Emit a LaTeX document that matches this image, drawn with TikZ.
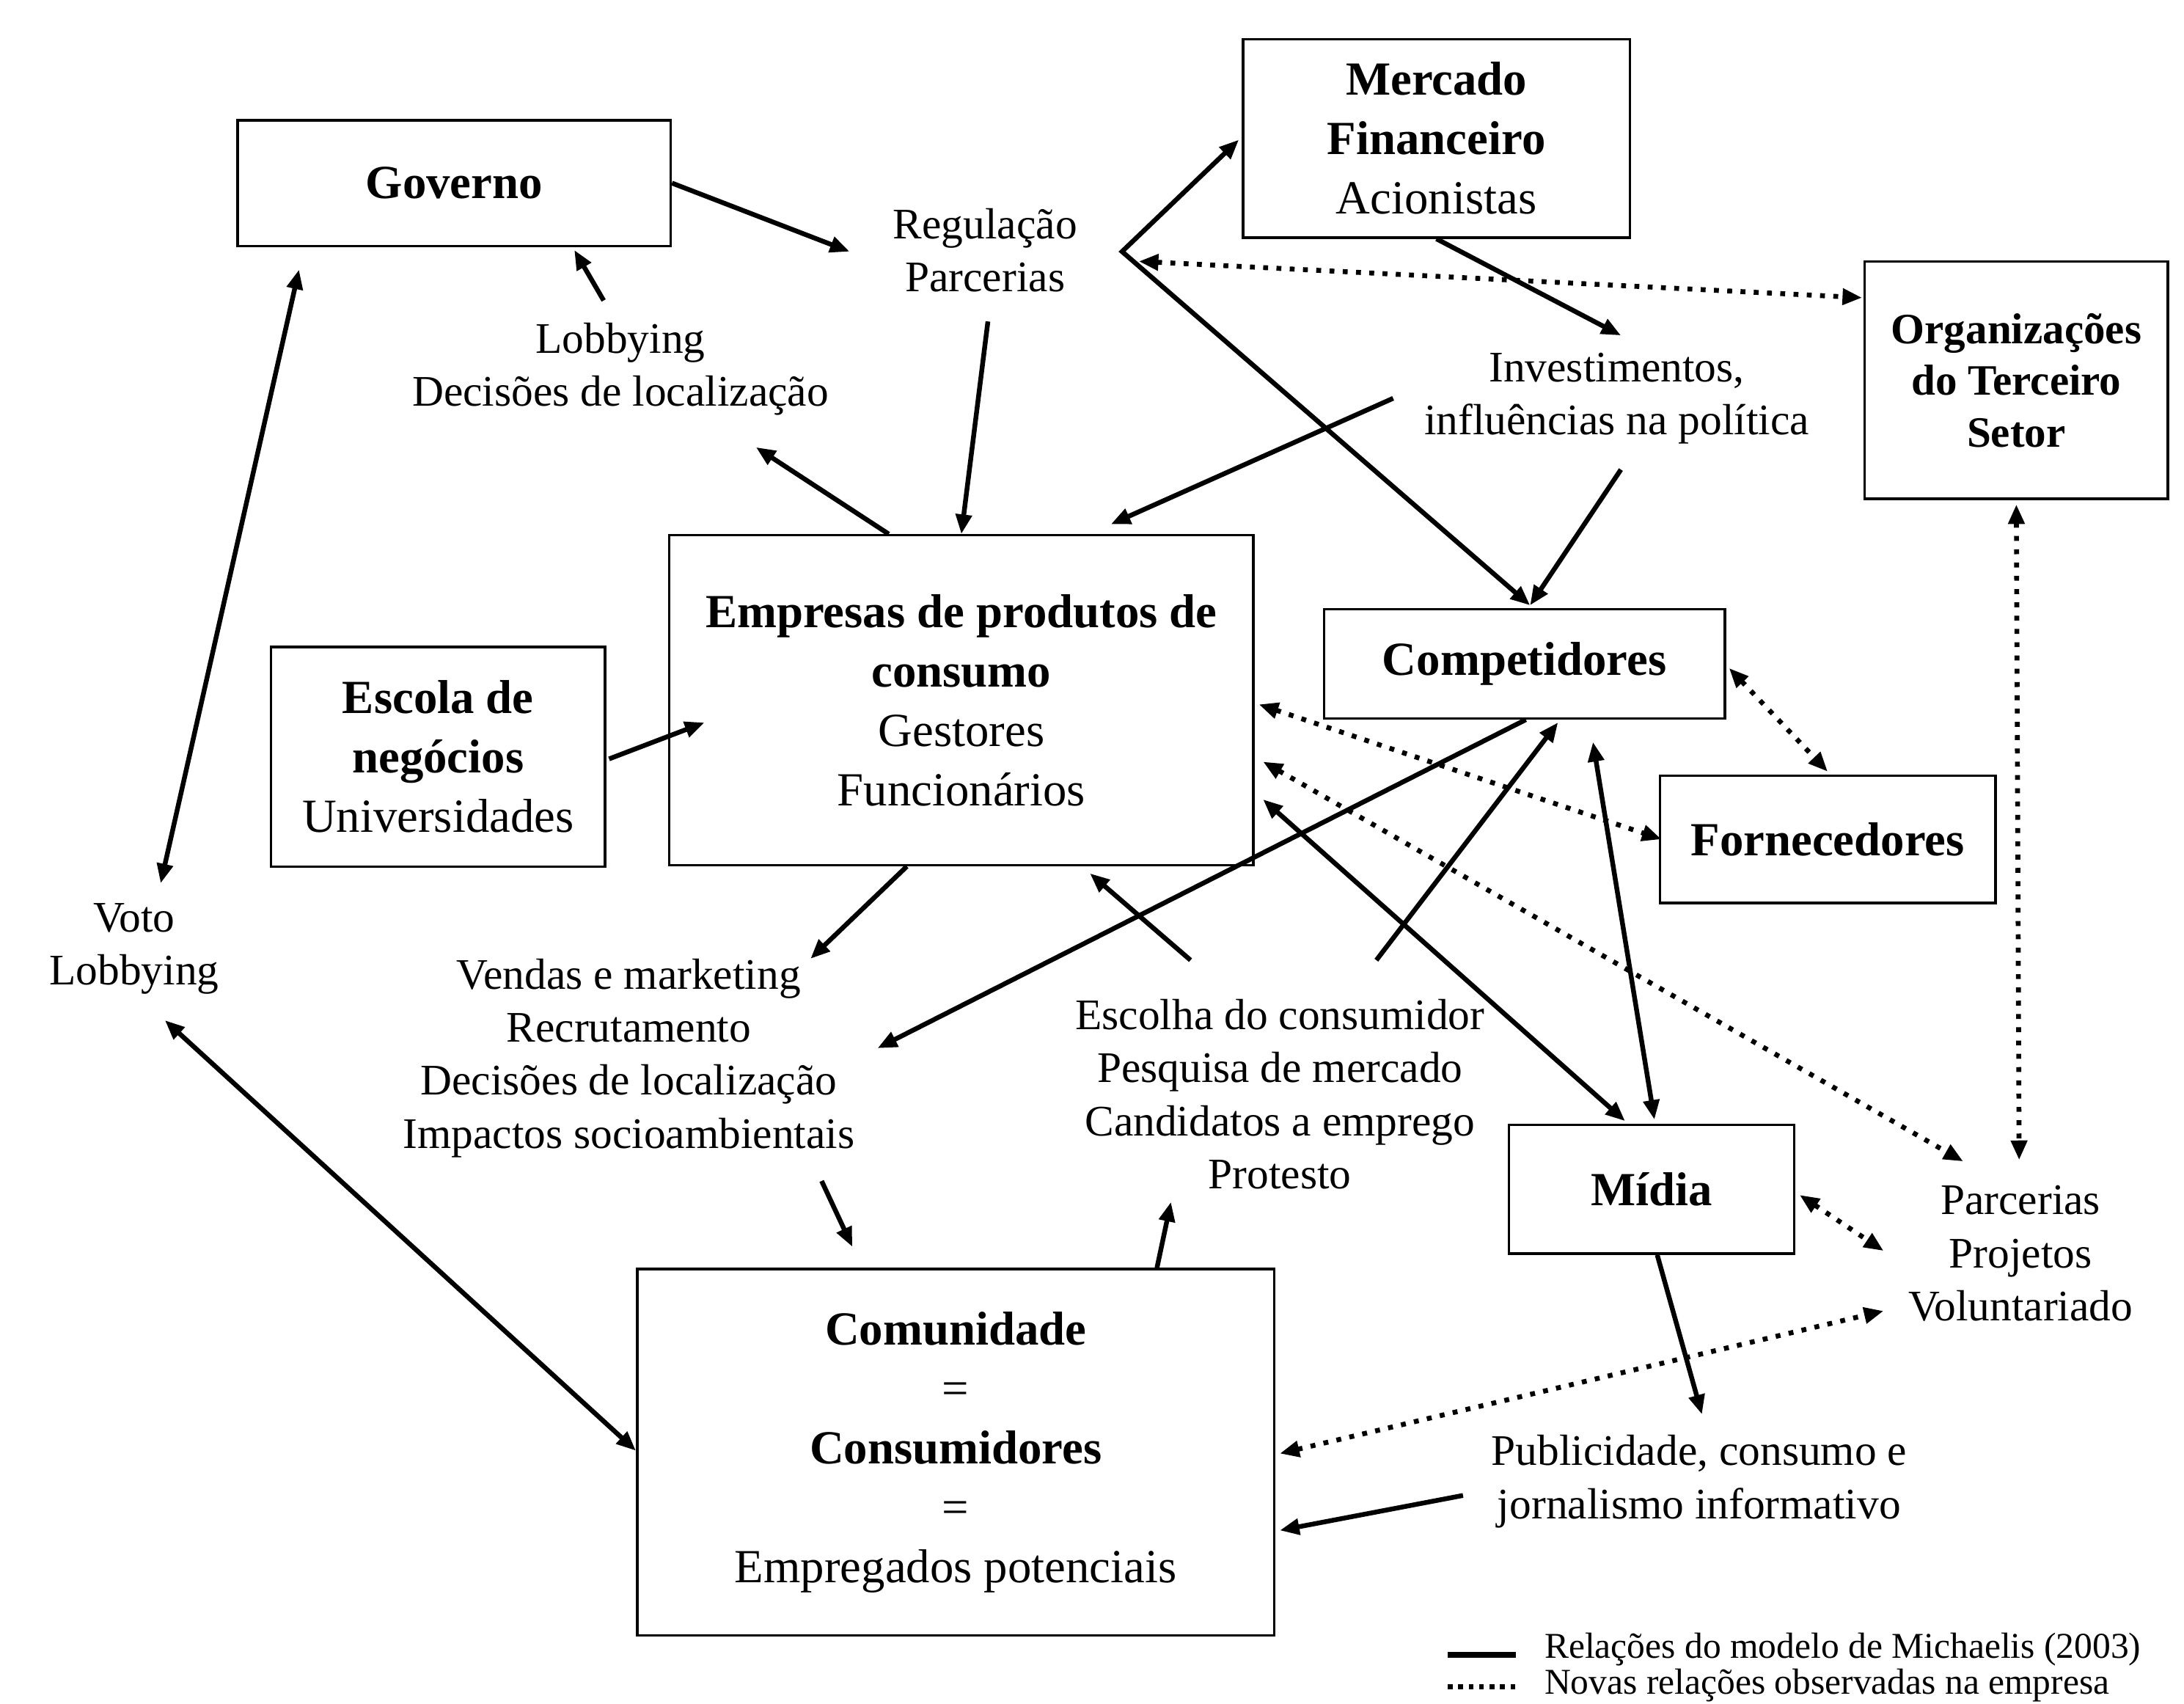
\documentclass[tikz,border=0pt]{standalone}
\usepackage{fontspec}
\setmainfont{Liberation Serif}
\usetikzlibrary{arrows.meta}

\begin{document}
\begin{tikzpicture}[x=0.5pt,y=-0.5pt,
    box/.style={draw,line width=0.9pt,inner sep=0pt,align=center,
      font=\fontsize{17}{21.25}\selectfont},
    lbl/.style={inner sep=0pt,align=center,font=\fontsize{15.6}{19}\selectfont},
    rel/.style={line width=1.7pt,-{Triangle[length=7pt,width=5.6pt]}},
    relb/.style={line width=1.7pt,{Triangle[length=7pt,width=5.6pt]}-{Triangle[length=7pt,width=5.6pt]}},
    nova/.style={line width=1.75pt,dash pattern=on 1.75pt off 3pt,
      {Triangle[length=7pt,width=5.6pt]}-{Triangle[length=7pt,width=5.6pt]}}]
        \useasboundingbox (0,0) rectangle (1563,1219);
        \clip (0,0) rectangle (1563,1219);
        % boxes
        \node[box,minimum width=155pt,minimum height=45pt] (gov) at (325,131) {\textbf{Governo}};
        \node[box,minimum width=138.5pt,minimum height=71pt] (mkt) at (1028,99)
            {\textbf{Mercado}\\\textbf{Financeiro}\\Acionistas};
        \node[box,minimum width=108.5pt,minimum height=85pt,font=\fontsize{15.5}{18.5}\selectfont]
            (org) at (1443,272) {\textbf{Organizações}\\\textbf{do Terceiro}\\\textbf{Setor}};
        \node[box,minimum width=209pt,minimum height=118pt] (emp) at (688,501)
            {\textbf{Empresas de produtos de}\\\textbf{consumo}\\Gestores\\Funcionários};
        \node[box,minimum width=119.5pt,minimum height=78.5pt] (esc) at (313.5,541.5)
            {\textbf{Escola de}\\\textbf{negócios}\\Universidades};
        \node[box,minimum width=143.5pt,minimum height=39pt] (comp) at (1091,475) {\textbf{Competidores}};
        \node[box,minimum width=120pt,minimum height=45.5pt] (forn) at (1308,600.5) {\textbf{Fornecedores}};
        \node[box,minimum width=102pt,minimum height=46pt] (midia) at (1182,851) {\textbf{Mídia}};
        \node[box,minimum width=228pt,minimum height=131pt] (com) at (684,1039)
            {\textbf{Comunidade}\\=\\\textbf{Consumidores}\\=\\Empregados potenciais};
        % labels
        \node[lbl] (reg) at (705,179) {Regulação\\Parcerias};
        \node[lbl] (lob) at (444,264) {Lobbying\\Decisões de localização};
        \node[lbl] (inv) at (1157,285) {Investimentos,\\influências na política};
        \node[lbl] (voto) at (96,679) {Voto\\Lobbying};
        \node[lbl] (vend) at (450,757)
            {Vendas e marketing\\Recrutamento\\Decisões de localização\\Impactos socioambientais};
        \node[lbl] (esco) at (916,783)
            {Escolha do consumidor\\Pesquisa de mercado\\Candidatos a emprego\\Protesto};
        \node[lbl] (parc) at (1446,897) {Parcerias\\Projetos\\Voluntariado};
        \node[lbl] (pub) at (1216,1060) {Publicidade, consumo e\\jornalismo informativo};
        \coordinate (bend) at ([shift={(98,1)}]reg.center);
        % relacoes do modelo
        \draw[rel] (gov.east) -- ([shift={(-97,1)}]reg.center);
        \draw[rel] ([shift={(-12,-49)}]lob.center) -- ([shift={(86,2)}]gov.south);
        \draw[rel] ([shift={(2,51)}]reg.center) -- (emp.north);
        \draw[rel] ([shift={(-52,0)}]emp.north) -- ([shift={(97,56)}]lob.center);
        \draw[relb] ([shift={(-2,1)}]mkt.west) -- (bend) -- ([shift={(4,-2)}]comp.north);
        \draw[rel] (mkt.south) -- ([shift={(3,-45)}]inv.center);
        \draw[rel] ([shift={(-160,0)}]inv.center) -- ([shift={(107,-7)}]emp.north);
        \draw[rel] ([shift={(3,51)}]inv.center) -- ([shift={(4,-2)}]comp.north);
        \draw[rel] ([shift={(2,1.5)}]esc.east) -- ([shift={(26,16)}]emp.west);
        \draw[rel] ([shift={(-39,0)}]emp.south) -- ([shift={(130,-71)}]vend.center);
        \draw[rel] ([shift={(1,0)}]comp.south) -- ([shift={(178,-7)}]vend.center);
        \draw[rel] ([shift={(-64,-96)}]esco.center) -- ([shift={(92,5)}]emp.south);
        \draw[rel] ([shift={(69,-96)}]esco.center) -- ([shift={(24,2)}]comp.south);
        \draw[relb] ([shift={(6,71)}]emp.east) -- ([shift={(-19,-2)}]midia.north);
        \draw[relb] ([shift={(49,16)}]comp.south) -- ([shift={(2,-3)}]midia.north);
        \draw[relb] ([shift={(19,-47)}]voto.center) -- ([shift={(-111,16)}]gov.south);
        \draw[relb] ([shift={(22,51)}]voto.center) -- ([shift={(0,-1)}]com.west);
        \draw[rel] ([shift={(138,88)}]vend.center) -- ([shift={(-74,-15)}]com.north);
        \draw[rel] ([shift={(144,0)}]com.north) -- ([shift={(-78,77)}]esco.center);
        \draw[rel] ([shift={(4,0)}]midia.south) -- ([shift={(2,-48)}]pub.center);
        \draw[rel] ([shift={(-169,10)}]pub.center) -- ([shift={(3,56)}]com.east);
        % novas relacoes
        \draw[nova] ([shift={(110,8)}]reg.center) -- ([shift={(-1,-59)}]org.west);
        \draw[nova] ([shift={(3,3)}]emp.east) -- ([shift={(2,0)}]forn.west);
        \draw[nova] ([shift={(2,3)}]comp.east) -- ([shift={(0,-2)}]forn.north);
        \draw[nova] ([shift={(6,44)}]emp.east) -- ([shift={(-41,-66)}]parc.center);
        \draw[nova] ([shift={(0,3)}]org.south) -- ([shift={(-1,-67)}]parc.center);
        \draw[nova] ([shift={(3,4)}]midia.east) -- ([shift={(-98,-2)}]parc.center);
        \draw[nova] ([shift={(3,1)}]com.east) -- ([shift={(-98,41)}]parc.center);
        % legenda
        \node[inner sep=0pt,anchor=west,font=\fontsize{13}{15}\selectfont] (leg1) at (1105,1180)
            {Relações do modelo de Michaelis (2003)};
        \node[inner sep=0pt,anchor=west,font=\fontsize{13}{15}\selectfont] (leg2) at (1105,1206)
            {Novas relações observadas na empresa};
        \draw[line width=2pt] ([shift={(-69,4)}]leg1.west) -- ([shift={(-20,4)}]leg1.west);
        \draw[line width=1.75pt,dash pattern=on 1.75pt off 2pt]
            ([shift={(-69,1)}]leg2.west) -- ([shift={(-20,1)}]leg2.west);
    \end{tikzpicture}
\end{document}
